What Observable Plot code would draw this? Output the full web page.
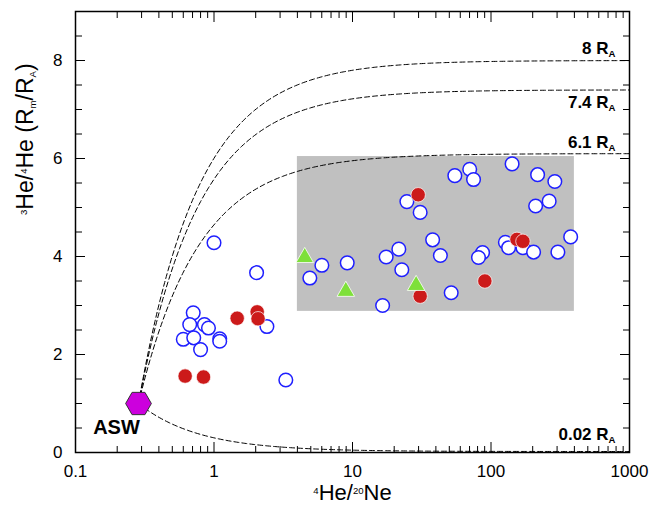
<!DOCTYPE html>
<html><head><meta charset="utf-8">
<script src="https://cdn.jsdelivr.net/npm/d3@7"></script>
<script src="https://cdn.jsdelivr.net/npm/@observablehq/plot@0.6"></script>
<style>
body{margin:0;background:#fff}
svg{font-family:"Liberation Sans",Arial,sans-serif}
</style>
</head><body><div id="chart"></div>
<script>
// ---- data ----
const blueX = [54.8, 70.2, 74.8, 142, 217, 289, 24.7, 30.8, 210, 263, 37.9, 376, 21.6, 17.5, 43.1, 86.9, 81.2, 127, 134, 170, 203, 304, 6.01, 9.16, 4.92, 22.7, 51.6, 16.5, 1.0, 2.03, 0.708, 0.668, 0.853, 0.912, 0.600, 0.714, 0.80, 1.10, 1.10, 2.41, 3.30];
const blueY = [5.65, 5.78, 5.57, 5.89, 5.67, 5.53, 5.12, 4.90, 5.03, 5.13, 4.34, 4.40, 4.15, 3.99, 4.02, 4.08, 3.98, 4.29, 4.18, 4.18, 4.09, 4.09, 3.82, 3.87, 3.56, 3.73, 3.26, 3.00, 4.28, 3.67, 2.85, 2.61, 2.61, 2.54, 2.31, 2.34, 2.10, 2.32, 2.27, 2.57, 1.48];
const redX = [29.8, 154, 170, 90.3, 30.8, 1.47, 2.05, 2.08, 0.619, 0.84];
const redY = [5.26, 4.35, 4.31, 3.50, 3.19, 2.74, 2.87, 2.73, 1.56, 1.54];
const greenX = [4.52, 8.95, 28.8];
const greenY = [3.98, 3.29, 3.41];
const aswX = [0.285];
const aswY = [1];
const aswLabel = ["ASW"];
const endmemberR = [8, 7.4, 6.1, 0.02];
const boxX = [4, 400];
const boxY = [2.88, 6.04];
const xTicks = [0.1, 1, 10, 100, 1000];
const yTicks = [0, 2, 4, 6, 8];
const xLabel = "^{4}He/^{20}Ne";
const yLabel = "^{3}He/^{4}He (R_{m}/R_{A})";

// ---- derived tables ----
const pts = (X, Y) => X.map((x, i) => ({x, y: Y[i]}));
const blue = pts(blueX, blueY), red = pts(redX, redY), green = pts(greenX, greenY), asw = pts(aswX, aswY);
// binary mixing between ASW and each endmember (model curves)
const nS = 300;
const curves = endmemberR.flatMap(R => d3.range(nS + 1).map(i => {
  const x = aswX[0] * Math.pow(1000 / aswX[0], i / nS);
  const f = aswX[0] / x;
  return {R, x, y: aswY[0] * f + R * (1 - f)};
}));
const xMinor = [];
for (const d of [0.1, 1, 10, 100]) for (let k = 2; k <= 9; k++) xMinor.push(+(d * k).toPrecision(3));
const yMinor = d3.range(0, 9.01, 0.5).filter(v => !yTicks.includes(v));

const hexagon = { draw(ctx, size) {
  const R = Math.sqrt(size / (1.5 * Math.sqrt(3)));
  for (let i = 0; i < 6; i++) { const a = i * Math.PI / 3; const px = R * Math.cos(a), py = R * Math.sin(a); i ? ctx.lineTo(px, py) : ctx.moveTo(px, py); }
  ctx.closePath();
}};

const labelDy = {8: -11.5, 7.4: 12.5, 6.1: -11.5, 0.02: -16.5};

const chart = Plot.plot({
  width: 652, height: 519,
  marginLeft: 75, marginRight: 23, marginTop: 11, marginBottom: 67,
  style: {fontFamily: '"Liberation Sans", Arial, sans-serif', fontSize: "17px", color: "black", background: "white"},
  x: {type: "log", domain: [0.1, 1000]},
  y: {domain: [0, 9]},
  marks: [
    Plot.rect([0], {x1: () => boxX[0], x2: () => boxX[1], y1: () => boxY[0], y2: () => boxY[1], fill: "#c0c0c0"}),
    Plot.line(curves, {x: "x", y: "y", z: "R", stroke: "black", strokeWidth: 1, strokeDasharray: "5,3"}),
    Plot.dot(blue, {x: "x", y: "y", r: 6.8, fill: "white", stroke: "#1f1fff", strokeWidth: 1.5}),
    Plot.dot(red, {x: "x", y: "y", r: 7.2, fill: "#cc1a1a", stroke: "white", strokeWidth: 0.7}),
    Plot.dot(green, {x: "x", y: "y", symbol: "triangle", r: 6.5, fill: "#7ee03a", stroke: "white", strokeWidth: 0.8}),
    Plot.dot(asw, {x: "x", y: "y", symbol: hexagon, r: 11.7, fill: "#cc00dd", stroke: "#333", strokeWidth: 1}),
    Plot.text(asw, {x: "x", y: "y", text: (d, i) => aswLabel[i], dx: -22, dy: 24, fontWeight: "bold", fontSize: 20}),
    ...endmemberR.map(R => Plot.text([R], {x: () => 1000, y: d => d, text: d => `${d} R_{A}`, dx: -14, dy: labelDy[R], textAnchor: "end", fontWeight: "bold", fontSize: 17})),
    // axis tick labels
    Plot.axisX(xTicks, {anchor: "bottom", tickSize: 0, tickPadding: 12, tickFormat: d => String(d), fontSize: 17, label: null}),
    Plot.axisY(yTicks, {anchor: "left", tickSize: 0, tickPadding: 13, tickFormat: d => String(d), fontSize: 17, label: null}),
    // inward ticks on all four sides
    Plot.axisX(xTicks, {anchor: "bottom", tickSize: -10, tickFormat: () => "", label: null}),
    Plot.axisX(xMinor, {anchor: "bottom", tickSize: -6, tickFormat: () => "", label: null}),
    Plot.axisX(xTicks, {anchor: "top", tickSize: -10, tickFormat: () => "", label: null}),
    Plot.axisX(xMinor, {anchor: "top", tickSize: -6, tickFormat: () => "", label: null}),
    Plot.axisY(yTicks, {anchor: "left", tickSize: -10, tickFormat: () => "", label: null}),
    Plot.axisY(yMinor, {anchor: "left", tickSize: -7, tickFormat: () => "", label: null}),
    Plot.axisY(yTicks, {anchor: "right", tickSize: -10, tickFormat: () => "", label: null}),
    Plot.axisY(yMinor, {anchor: "right", tickSize: -7, tickFormat: () => "", label: null}),
    Plot.frame({stroke: "black", strokeWidth: 1.5}),
    // axis titles
    Plot.text([xLabel], {text: d => d, frameAnchor: "bottom", dy: 47, fontSize: 22}),
    Plot.text([yLabel], {text: d => d, frameAnchor: "left", dx: -50, dy: -17, rotate: -90, fontSize: 23})
  ]
});

// rich text: ^{..} superscript, _{..} subscript
d3.select(chart).selectAll("text").each(function() {
  const t = this.textContent;
  if (!/[_^]\{/.test(t)) return;
  const fs = parseFloat(getComputedStyle(this).fontSize) || 16;
  this.textContent = "";
  const re = /([_^])\{([^}]*)\}/g;
  let last = 0, m;
  const add = (s, kind) => {
    if (!s) return;
    const ts = document.createElementNS("http://www.w3.org/2000/svg", "tspan");
    ts.textContent = s;
    if (kind === "^") { ts.setAttribute("font-size", (fs * 0.6) + "px"); ts.setAttribute("baseline-shift", (fs * 0.38) + "px"); }
    if (kind === "_") { ts.setAttribute("font-size", (fs * 0.6) + "px"); ts.setAttribute("baseline-shift", (-fs * 0.18) + "px"); }
    this.appendChild(ts);
  };
  while ((m = re.exec(t))) { add(t.slice(last, m.index)); add(m[2], m[1]); last = re.lastIndex; }
  add(t.slice(last));
});

document.getElementById("chart").appendChild(chart);
</script>
</body></html>
